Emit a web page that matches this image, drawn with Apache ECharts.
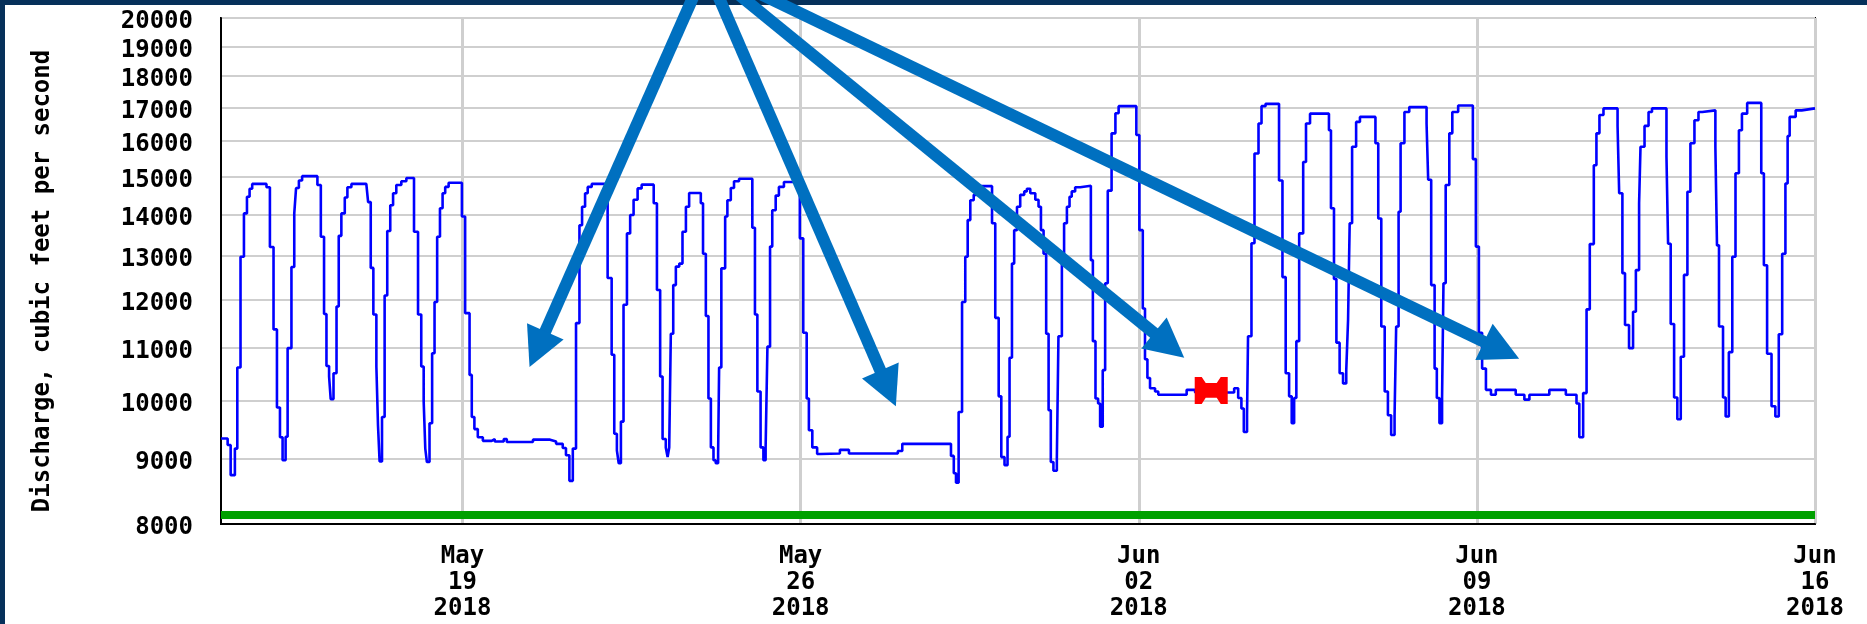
<!DOCTYPE html>
<html>
<head>
<meta charset="utf-8">
<script src="https://cdn.jsdelivr.net/npm/echarts@6/dist/echarts.min.js"></script>
<style>
html,body{margin:0;padding:0;background:#ffffff;}
#chart{width:1867px;height:624px;}
</style>
</head>
<body>
<div id="chart"></div>
<script>
// Time axis: hours since 2018-05-14 00:00
const periodHours = [0, 792];
const tickHours = [120, 288, 456, 624, 792];
const tickLabels = ['May\n19\n2018', 'May\n26\n2018', 'Jun\n02\n2018', 'Jun\n09\n2018', 'Jun\n16\n2018'];
const yTicks = [8000, 9000, 10000, 11000, 12000, 13000, 14000, 15000, 16000, 17000, 18000, 19000, 20000];
const yRange = [8000, 20000];
const yAxisName = 'Discharge, cubic feet per second';

// Discharge readings (step changes): hour since start, cfs
const hours = [
  0, 3.3, 4.8, 6.9, 8.1, 9.7, 11.4, 12.9, 14.2, 15.5, 22.6, 24.3, 26.1, 27.8, 29.3, 30.6, 32.1, 33.1, 35.0, 36.4,
  37.3, 38.7, 40.3, 47.9, 49.6, 51.2, 52.4, 53.7, 54.5, 55.9, 57.4, 58.5, 59.8, 61.5, 62.8, 64.8, 72.2, 73.1, 74.4, 75.7,
  77.2, 78.0, 78.8, 80.0, 81.3, 82.6, 84.1, 85.5, 87.1, 89.6, 92.1, 95.9, 97.9, 99.5, 100.7, 101.5, 102.3, 103.6, 104.9, 106.1,
  107.4, 108.8, 110.1, 111.4, 113.1, 119.7, 121.3, 123.5, 124.6, 125.9, 127.6, 130.1, 134.5, 136, 140.5, 142, 155, 163.5, 166.5, 169.8,
  171.4, 173.1, 174.8, 176.4, 178.1, 179.4, 180.9, 182.2, 184.2, 192.1, 194.1, 195.4, 196.7, 197.6, 198.7, 200.0, 201.7, 203.3, 205.0, 207.0,
  209.0, 215.0, 216.6, 218.2, 219.4, 221.0, 221.9, 222.7, 223.5, 224.7, 226.0, 227.7, 229.3, 231.0, 232.6, 238.4, 239.5, 240.9, 242.2, 243.4,
  244.7, 245.8, 247.0, 247.5, 248.6, 250.5, 251.6, 253.3, 254.9, 257.4, 264.0, 265.3, 266.5, 268.1, 269.5, 270.6, 271.5, 272.8, 273.9, 275.6,
  277.2, 279.7, 287.6, 289.3, 291.0, 292.1, 293.8, 296.2, 297.9, 307.5, 312.0, 336.3, 338.5, 362.7, 364.1, 365.2, 366.5, 368.2, 369.8, 371.0,
  372.3, 374.0, 375.3, 383.1, 384.7, 386.4, 387.7, 389.3, 390.8, 391.8, 393.0, 394.1, 395.5, 397.1, 399.1, 400.4, 402.1, 404.6, 406.2, 407.4,
  408.7, 410.0, 411.2, 412.3, 413.6, 415.3, 416.1, 417.8, 418.9, 420.3, 421.6, 422.7, 424.4, 426.9, 432.2, 433.2, 434.5, 435.8, 436.8, 438.1,
  439.3, 440.6, 442.5, 444.4, 446.0, 454.8, 456.3, 458.0, 459.1, 460.3, 461.6, 464.1, 465.7, 479.8, 484.0, 503.4, 505.4, 507.0, 508.2, 509.8,
  510.3, 512.0, 513.5, 515.5, 517.0, 519.0, 525.7, 527.4, 529.0, 530.7, 532.0, 533.2, 534.3, 535.7, 537.7, 539.1, 541.1, 550.5, 551.5, 553.0,
  554.2, 555.8, 557.5, 559.1, 560.0, 560.8, 562.0, 564.0, 565.9, 573.6, 575.0, 576.5, 578.2, 579.8, 581.4, 583.1, 583.9, 585.1, 586.1, 588.0,
  590.4, 599.0, 599.8, 601.3, 603.0, 604.1, 605.4, 606.7, 607.4, 608.5, 610.3, 611.8, 614.7, 622.0, 623.5, 625.0, 626.6, 628.5, 631.0, 633.4,
  643.3, 647.6, 650.1, 660.0, 668.2, 673.5, 674.9, 676.8, 678.5, 680.1, 682.1, 683.4, 684.9, 686.9, 693.9, 694.7, 696.3, 697.6, 699.6, 701.6,
  703.0, 704.6, 705.3, 707.3, 709.3, 711.0, 718.2, 719.0, 720.3, 722.0, 723.6, 725.3, 726.9, 728.6, 730.1, 732.1, 734.1, 736.0, 742.5, 743.3,
  744.3, 746.3, 747.6, 749.2, 750.9, 752.5, 754.2, 755.7, 758.3, 765.3, 766.6, 768.2, 770.4, 772.3, 774.0, 775.7, 777.3, 778.4, 779.4, 782.4,
  785.4, 792
];
const discharge = [
  9340, 9230, 8740, 9170, 10620, 12980, 14040, 14470, 14680, 14810, 14720, 13210, 11380, 9880, 9360, 8980, 9370, 11000, 12740, 14040,
  14700, 14900, 15020, 14780, 13460, 11700, 10650, 10450, 10030, 10510, 11860, 13480, 14040, 14450, 14720, 14810, 14840, 14330, 12720, 11690,
  10640, 9570, 8960, 9710, 12100, 13600, 14250, 14560, 14780, 14880, 14970, 13580, 11690, 10640, 9990, 9170, 8950, 9600, 10900, 11960,
  13460, 14170, 14560, 14730, 14840, 13960, 11720, 10480, 9710, 9500, 9360, 9300, 9330, 9290, 9330, 9280, 9320, 9290, 9250, 9180,
  9060, 8650, 9170, 11510, 13740, 14210, 14560, 14730, 14810, 12490, 10870, 9420, 9140, 8930, 9630, 11900, 13540, 14000, 14390, 14690,
  14790, 14300, 12220, 10450, 9330, 9190, 9030, 9190, 11290, 12330, 12750, 12820, 13580, 14210, 14570, 14300, 13050, 11660, 10040, 9190,
  8980, 8930, 9080, 10620, 12710, 13960, 14380, 14700, 14880, 14950, 13680, 11690, 10170, 9190, 8980, 9190, 11030, 13220, 14120, 14500,
  14730, 14860, 13420, 11310, 10040, 9480, 9190, 9080, 9090, 9150, 9090, 9130, 9250, 9050, 8770, 8620, 9800, 11960, 12980, 13870,
  14380, 14520, 14750, 13790, 11620, 10080, 9030, 8900, 9370, 10810, 12820, 13620, 14210, 14520, 14610, 14680, 14560, 14390, 14210, 13620,
  13050, 11290, 9830, 8950, 8810, 9010, 11240, 12900, 13790, 14210, 14470, 14610, 14720, 14760, 12900, 11140, 10040, 9950, 9540, 10570,
  12370, 14630, 16230, 16830, 17050, 16180, 13620, 11820, 10780, 10420, 10230, 10170, 10110, 10200, 10150, 10230, 10050, 9860, 9450, 9740,
  11240, 13300, 15650, 16520, 17050, 17120, 14900, 12510, 10510, 10080, 9600, 10050, 11140, 13540, 15410, 16520, 16820, 16320, 14170, 12470,
  11110, 10510, 10320, 10570, 11580, 13790, 15840, 16570, 16720, 15940, 13910, 11440, 10170, 9740, 9400, 9740, 11440, 14080, 15940, 16870,
  17020, 16520, 14920, 12330, 10600, 10050, 9600, 10050, 12370, 14780, 16230, 16870, 17070, 15490, 13220, 11310, 10600, 10200, 10110, 10200,
  10110, 10020, 10110, 10200, 10110, 9950, 9360, 10140, 11800, 13280, 15320, 16230, 16780, 16980, 16450, 14560, 12600, 11470, 11000, 11750,
  12670, 14300, 15840, 16450, 16870, 16980, 15560, 13290, 11490, 10060, 9670, 10830, 12560, 14600, 15940, 16620, 16870, 16920, 15840, 13250,
  11440, 10060, 9720, 10920, 12980, 15100, 16320, 16820, 17150, 15100, 12780, 10890, 9900, 9720, 11280, 13050, 14820, 16150, 16720, 16920,
  16980, 16980
];

// Green reference line value, red flagged reading
const referenceLevel = 8130;
const flaggedReading = [492, 10190];

// Annotation arrows (data coordinates): common tail and the four tips
const arrowTail = [241, 21900];
const arrowTips = [[153.3, 10630], [335.3, 9900], [478.6, 10810], [645.0, 10790]];

const FONT = 'DejaVu Sans Mono';
const dischargeData = hours.map((h, i) => [h, discharge[i]]);

const chart = echarts.init(document.getElementById('chart'), null, {renderer: 'canvas'});

const option = {
  backgroundColor: '#ffffff',
  animation: false,
  grid: {left: 221, right: 52, top: 18, bottom: 100, show: true, borderColor: '#000000', borderWidth: 2, backgroundColor: 'transparent'},
  xAxis: {
    type: 'value',
    min: periodHours[0],
    max: periodHours[1],
    axisLine: {show: true, lineStyle: {color: '#000000', width: 2}},
    axisTick: {show: false, customValues: tickHours},
    axisLabel: {
      customValues: tickHours,
      formatter: v => tickLabels[tickHours.indexOf(v)] || '',
      fontFamily: FONT, fontWeight: 'bold', fontSize: 24, lineHeight: 26,
      color: '#000000', margin: 20
    },
    splitLine: {show: true, lineStyle: {color: '#cfcfcf', width: 3}}
  },
  yAxis: {
    type: 'log',
    logBase: 10,
    min: yRange[0],
    max: yRange[1],
    name: yAxisName,
    nameLocation: 'middle',
    nameGap: 166,
    nameTextStyle: {fontFamily: FONT, fontWeight: 'bold', fontSize: 24, color: '#000000', padding: [0, 20, 0, 0]},
    axisLine: {show: true, lineStyle: {color: '#000000', width: 2}},
    axisTick: {show: false, customValues: yTicks},
    axisLabel: {
      customValues: yTicks,
      formatter: v => '{n|' + Math.round(v) + '}',
      rich: {n: {fontFamily: FONT, fontWeight: 'bold', fontSize: 24, color: '#000000', padding: [8, 0, 0, 0]}},
      fontFamily: FONT, fontWeight: 'bold', fontSize: 24,
      color: '#000000', margin: 28
    },
    splitLine: {show: true, lineStyle: {color: '#cfcfcf', width: 2}}
  },
  series: [
    {
      name: 'reference',
      type: 'line',
      data: [[periodHours[0], referenceLevel], [periodHours[1], referenceLevel]],
      showSymbol: false,
      lineStyle: {color: '#00a000', width: 8},
      silent: true,
      z: 2
    },
    {
      name: 'Discharge',
      type: 'line',
      step: 'end',
      data: dischargeData,
      showSymbol: false,
      lineStyle: {color: '#0000ff', width: 2.6},
      z: 3
    },
    {
      name: 'flagged',
      type: 'scatter',
      data: [flaggedReading],
      symbol: 'path://M0,0 L7,0 L11,6 L22,6 L26,0 L33,0 L33,26 L26,26 L22,20 L11,20 L7,26 L0,26 Z',
      symbolSize: [33, 27],
      itemStyle: {color: '#ff0000', opacity: 1},
      z: 4
    }
  ]
};

chart.setOption(option);

function buildGraphics() {
  const g = [];
  const navy = '#06305a';
  g.push({type: 'rect', shape: {x: 0, y: 0, width: 1867, height: 5}, style: {fill: navy}, z: 50});
  g.push({type: 'rect', shape: {x: 0, y: 0, width: 5, height: 624}, style: {fill: navy}, z: 50});
  const tail = chart.convertToPixel({gridIndex: 0}, arrowTail);
  const headLen = 39, halfW = 20, blue = '#0070c0';
  arrowTips.forEach(tip => {
    const p = chart.convertToPixel({gridIndex: 0}, tip);
    const dx = p[0] - tail[0], dy = p[1] - tail[1];
    const len = Math.sqrt(dx * dx + dy * dy);
    const ux = dx / len, uy = dy / len;
    const px = -uy, py = ux;
    const bx = p[0] - ux * headLen, by = p[1] - uy * headLen;
    g.push({type: 'line', shape: {x1: tail[0], y1: tail[1], x2: bx + ux * 3, y2: by + uy * 3},
      style: {stroke: blue, lineWidth: 12}, z: 60});
    g.push({type: 'polygon', shape: {points: [[p[0], p[1]], [bx + px * halfW, by + py * halfW], [bx - px * halfW, by - py * halfW]]},
      style: {fill: blue}, z: 61});
  });
  return g;
}

chart.setOption({graphic: buildGraphics()});
</script>
</body>
</html>
